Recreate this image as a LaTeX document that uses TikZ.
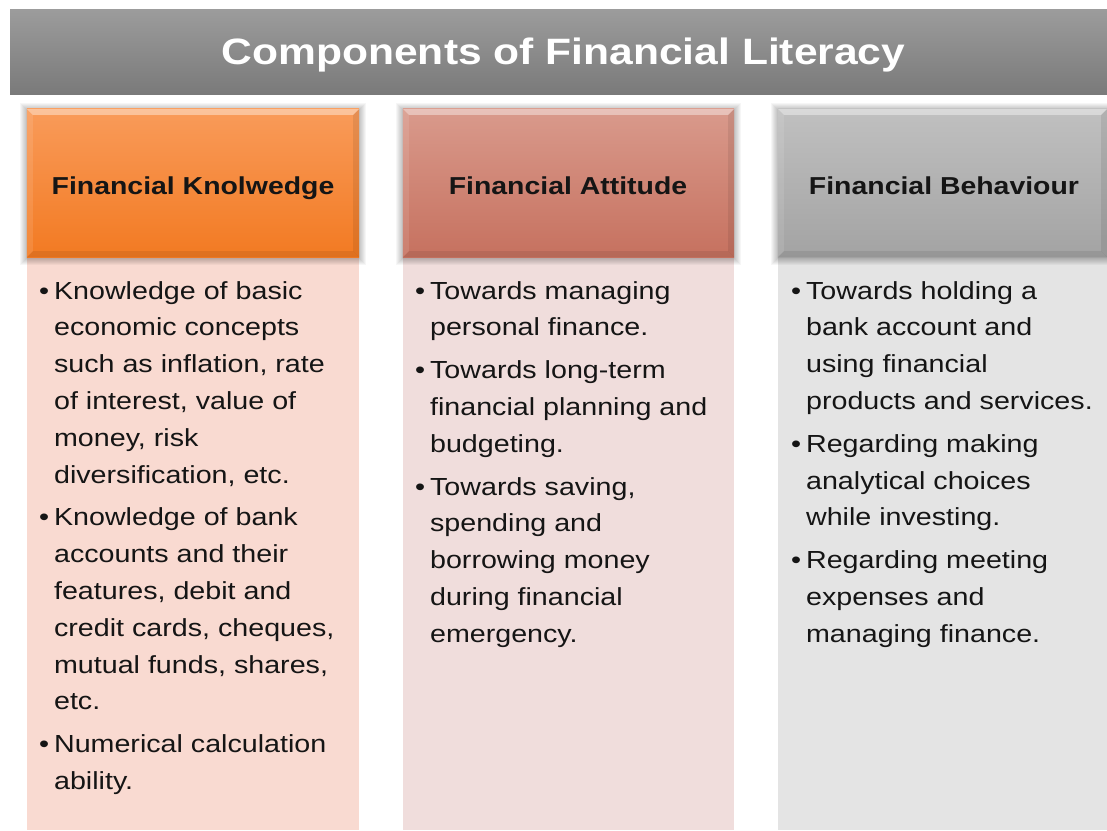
\documentclass[tikz,border=0pt]{standalone}
\usepackage{fontspec}
\setmainfont{Liberation Sans}
\usetikzlibrary{calc}

\definecolor{bartop}{HTML}{9C9C9C}
\definecolor{barbot}{HTML}{7A7A7A}
\definecolor{knowtop}{HTML}{F99B5A}
\definecolor{knowbot}{HTML}{F27A22}
\definecolor{knowbody}{HTML}{F9DAD1}
\definecolor{atttop}{HTML}{D99A8C}
\definecolor{attbot}{HTML}{C6715F}
\definecolor{attbody}{HTML}{F0DDDC}
\definecolor{behtop}{HTML}{C0C0C0}
\definecolor{behbot}{HTML}{A3A3A3}
\definecolor{behbody}{HTML}{E4E4E4}
\definecolor{ink}{HTML}{151515}

% all text is set slightly wide
\newcommand\widen[1]{\scalebox{1.16}[1]{#1}}
\newcommand\bul{\makebox[0.52em][l]{•}}

\tikzset{
  titletext/.style={anchor=base, inner sep=0pt, text=white,
    font=\fontsize{36.7}{44}\selectfont\bfseries},
  hdrbox/.style={draw=none, inner sep=0pt, minimum height=148pt},
  hdrtext/.style={anchor=base, inner sep=0pt, text=ink,
    font=\fontsize{24.5}{29}\selectfont\bfseries},
  bodytext/.style={anchor=base west, inner sep=0pt, text=ink,
    font=\fontsize{24.7}{36.8}\selectfont},
}

% soft shadow behind a header box: stacked translucent frames
\newcommand\softshadow[1]{%
  \foreach \r in {1,...,7}{
    \fill[black, opacity=.035]
      ([xshift=-\r pt,yshift=\r pt-1pt]#1.north west) rectangle
      ([xshift=\r pt,yshift=-\r pt-1pt]#1.south east);
  }%
}

% bevelled edges of a header box
\newcommand\bevel[1]{%
  \fill[white, opacity=.40] (#1.north west) -- (#1.north east)
    -- ([xshift=-6pt,yshift=-6pt]#1.north east)
    -- ([xshift=6pt,yshift=-6pt]#1.north west) -- cycle;
  \fill[white, opacity=.10] (#1.north west) -- ([xshift=6pt,yshift=-6pt]#1.north west)
    -- ([xshift=6pt,yshift=6pt]#1.south west) -- (#1.south west) -- cycle;
  \fill[black, opacity=.08] (#1.north east) -- ([xshift=-6pt,yshift=-6pt]#1.north east)
    -- ([xshift=-6pt,yshift=6pt]#1.south east) -- (#1.south east) -- cycle;
  \fill[black, opacity=.08] (#1.south west) -- ([xshift=6pt,yshift=6pt]#1.south west)
    -- ([xshift=-6pt,yshift=6pt]#1.south east) -- (#1.south east) -- cycle;
}

\begin{document}
\begin{tikzpicture}[x=1pt, y=-1pt]
  \useasboundingbox[fill=white] (0,0) rectangle (1107,830);

  % title bar
  \shade[top color=bartop, bottom color=barbot] (10,9) rectangle (1107,94);
  \node[titletext] (title) at (563.5,64) {\widen{Components of Financial Literacy}};

  % column bodies
  \fill[knowbody] (27,257) rectangle (359,830);
  \fill[attbody]  (403,257) rectangle (734,830);
  \fill[behbody]  (778,257) rectangle (1107,830);

  % header placement (invisible), shadows, then shaded boxes
  \path (193,183) node[hdrbox, minimum width=332pt] (h1) {}
        (568.5,183) node[hdrbox, minimum width=331pt] (h2) {}
        (942.5,183) node[hdrbox, minimum width=329pt] (h3) {};
  \softshadow{h1}
  \softshadow{h2}
  \softshadow{h3}
  \shade[top color=knowtop, bottom color=knowbot] (h1.north west) rectangle (h1.south east);
  \shade[top color=atttop, bottom color=attbot] (h2.north west) rectangle (h2.south east);
  \shade[top color=behtop, bottom color=behbot] (h3.north west) rectangle (h3.south east);
  \bevel{h1}
  \bevel{h2}
  \bevel{h3}

  \node[hdrtext] (t1) at (193,194) {\widen{Financial Knolwedge}};
  \node[hdrtext] (t2) at (568,194) {\widen{Financial Attitude}};
  \node[hdrtext] (t3) at (944,194) {\widen{Financial Behaviour}};

  % column texts
  \node[bodytext] (b1) at (39,299) {\widen{\begin{tabular}[t]{@{}l@{}l@{}}
    \bul & Knowledge of basic\\
         & economic concepts\\
         & such as inflation, rate\\
         & of interest, value of\\
         & money, risk\\
         & diversification, etc.\\[6pt]
    \bul & Knowledge of bank\\
         & accounts and their\\
         & features, debit and\\
         & credit cards, cheques,\\
         & mutual funds, shares,\\
         & etc.\\[6pt]
    \bul & Numerical calculation\\
         & ability.
  \end{tabular}}};

  \node[bodytext] (b2) at (415,299) {\widen{\begin{tabular}[t]{@{}l@{}l@{}}
    \bul & Towards managing\\
         & personal finance.\\[6pt]
    \bul & Towards long-term\\
         & financial planning and\\
         & budgeting.\\[6pt]
    \bul & Towards saving,\\
         & spending and\\
         & borrowing money\\
         & during financial\\
         & emergency.
  \end{tabular}}};

  \node[bodytext] (b3) at (791,299) {\widen{\begin{tabular}[t]{@{}l@{}l@{}}
    \bul & Towards holding a\\
         & bank account and\\
         & using financial\\
         & products and services.\\[6pt]
    \bul & Regarding making\\
         & analytical choices\\
         & while investing.\\[6pt]
    \bul & Regarding meeting\\
         & expenses and\\
         & managing finance.
  \end{tabular}}};
\end{tikzpicture}
\end{document}
